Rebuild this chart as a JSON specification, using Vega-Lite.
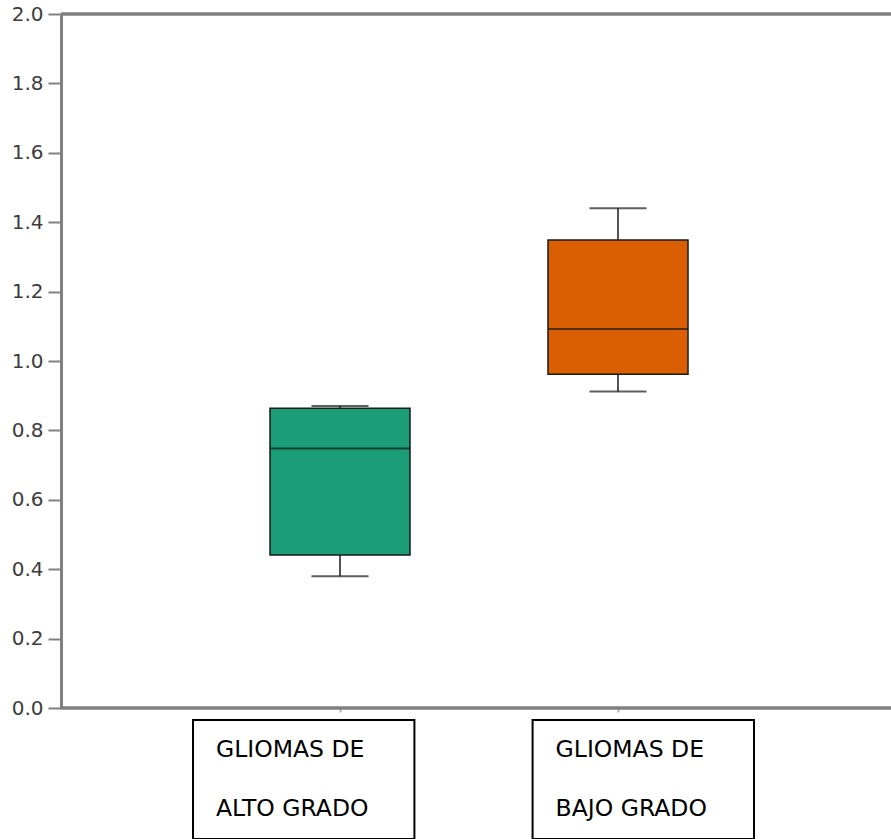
{
  "$schema": "https://vega.github.io/schema/vega-lite/v6.json",
  "padding": {"left": 11, "top": 4, "right": 0, "bottom": 1},
  "background": "white",
  "config": {"view": {"stroke": null}},
  "spacing": 1,
  "resolve": {"scale": {"x": "independent"}},
  "vconcat": [
    {
      "width": 830,
      "height": 694,
      "data": {"values": [
        {"group": "GLIOMAS DE ALTO GRADO", "lower": 0.38, "q1": 0.441, "median": 0.748, "q3": 0.864, "upper": 0.87},
        {"group": "GLIOMAS DE BAJO GRADO", "lower": 0.912, "q1": 0.962, "median": 1.092, "q3": 1.349, "upper": 1.44}
      ]},
      "encoding": {
        "x": {"field": "group", "type": "nominal", "sort": null,
          "scale": {"type": "point", "range": [279, 557], "padding": 0},
          "axis": {"title": null, "labels": false, "ticks": true, "tickSize": 4, "tickColor": "#b0b0b0", "tickWidth": 2,
            "domain": false, "grid": false}}
      },
      "layer": [
        {"mark": {"type": "rule", "color": "#808080", "strokeWidth": 3},
         "encoding": {"x": null, "y": {"datum": 2, "type": "quantitative"}}},
        {"mark": {"type": "rule", "color": "#808080", "strokeWidth": 3},
         "encoding": {"x": null, "y": {"datum": 0, "type": "quantitative"}}},
        {"mark": {"type": "rule", "color": "#1a1a1a", "strokeWidth": 1.5},
         "encoding": {"y": {"field": "q3", "type": "quantitative"}, "y2": {"field": "upper"}}},
        {"mark": {"type": "rule", "color": "#1a1a1a", "strokeWidth": 1.5},
         "encoding": {"y": {"field": "lower", "type": "quantitative"}, "y2": {"field": "q1"}}},
        {"mark": {"type": "tick", "color": "#1a1a1a", "size": 57, "thickness": 2},
         "encoding": {"y": {"field": "upper", "type": "quantitative"}}},
        {"mark": {"type": "tick", "color": "#1a1a1a", "size": 57, "thickness": 2},
         "encoding": {"y": {"field": "lower", "type": "quantitative"}}},
        {"mark": {"type": "bar", "size": 140, "stroke": "#1a1a1a", "strokeWidth": 1.5},
         "encoding": {
           "y": {"field": "q1", "type": "quantitative",
             "scale": {"domain": [0, 2], "nice": false},
             "axis": {"title": null, "grid": false, "values": [0, 0.2, 0.4, 0.6, 0.8, 1.0, 1.2, 1.4, 1.6, 1.8, 2.0],
               "format": ".1f", "domainColor": "#808080", "domainWidth": 3, "tickColor": "#808080", "tickWidth": 2,
               "tickSize": 13, "labelFont": "DejaVu Sans", "labelFontSize": 20, "labelColor": "#3c3c3c", "labelPadding": 5}},
           "y2": {"field": "q3"},
           "color": {"field": "group", "type": "nominal", "legend": null,
             "scale": {"range": ["#1b9e77", "#d95f02"]}}
         }},
        {"mark": {"type": "tick", "color": "#1a1a1a", "size": 140, "thickness": 2},
         "encoding": {"y": {"field": "median", "type": "quantitative"}}}
      ]
    },
    {
      "width": 830,
      "height": 119,
      "data": {"values": [
        {"group": "GLIOMAS DE ALTO GRADO", "label": "GLIOMAS DE\nALTO GRADO"},
        {"group": "GLIOMAS DE BAJO GRADO", "label": "GLIOMAS DE\n\u00a0BAJO GRADO"}
      ]},
      "encoding": {
        "x": {"field": "group", "type": "nominal", "sort": null,
          "scale": {"type": "band", "range": [132, 693], "paddingInner": 0.348, "paddingOuter": 0},
          "axis": null}
      },
      "layer": [
        {"mark": {"type": "bar", "fill": "white", "stroke": "black", "strokeWidth": 2}},
        {"mark": {"type": "text", "align": "left", "baseline": "middle", "dx": 23, "dy": -29.5, "lineBreak": "\n",
          "lineHeight": 59, "font": "DejaVu Sans", "fontSize": 23.5, "color": "black"},
         "encoding": {"x": {"field": "group", "type": "nominal", "sort": null, "bandPosition": 0,
            "scale": {"type": "band", "range": [132, 693], "paddingInner": 0.348, "paddingOuter": 0}, "axis": null},
           "text": {"field": "label"}}}
      ]
    }
  ]
}
